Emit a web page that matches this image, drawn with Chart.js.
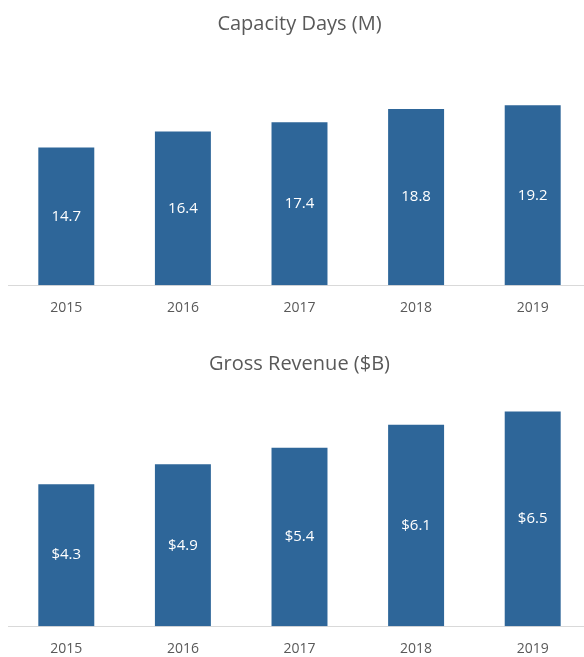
<!DOCTYPE html>
<html>
<head>
<meta charset="utf-8">
<script src="https://cdn.jsdelivr.net/npm/chart.js@4"></script>
<style>
  html, body { margin: 0; padding: 0; background: #fff; overflow: hidden; }
  .box { position: relative; width: 600px; }
  #capBox { height: 330px; }
  #revBox { height: 342px; }
</style>
</head>
<body>
<div class="box" id="capBox"><canvas id="capChart"></canvas></div>
<div class="box" id="revBox"><canvas id="revChart"></canvas></div>
<script>
var years = ['2015', '2016', '2017', '2018', '2019'];
var capacityDays = [14.7, 16.4, 17.4, 18.8, 19.2];
var grossRevenue = [4.3, 4.9, 5.4, 6.1, 6.5];

var barColor = '#2e6699';
var textColor = '#595959';
var fontFamily = "'Open Sans', 'Noto Sans', sans-serif";

// value formatters per canvas (kept out of options so Chart.js doesn't treat them as scriptable)
var valueFormats = {
    capChart: function(v) { return v.toFixed(1); },
    revChart: function(v) { return '$' + v.toFixed(1); }
};

// writes each bar's value in the middle of the bar
var barLabels = {
    id: 'barLabels',
    afterDatasetsDraw: function(chart) {
        var ctx = chart.ctx;
        var fmt = valueFormats[chart.canvas.id];
        var meta = chart.getDatasetMeta(0);
        ctx.save();
        ctx.fillStyle = '#ffffff';
        ctx.font = '15px ' + fontFamily;
        ctx.textAlign = 'center';
        ctx.textBaseline = 'middle';
        meta.data.forEach(function(bar, i) {
            var v = chart.data.datasets[0].data[i];
            ctx.fillText(fmt(v), bar.x, (bar.y + bar.base) / 2);
        });
        ctx.restore();
    }
};

function makeChart(id, values, title, yMax, titlePad, layoutPad) {
    var ctx = document.getElementById(id).getContext('2d');
    return new Chart(ctx, {
        type: 'bar',
        data: {
            labels: years,
            datasets: [{
                data: values,
                backgroundColor: barColor,
                borderWidth: 0,
                categoryPercentage: 1,
                barPercentage: 0.48
            }]
        },
        options: {
            responsive: true,
            maintainAspectRatio: false,
            animation: false,
            layout: { padding: layoutPad },
            plugins: {
                legend: { display: false },
                tooltip: { enabled: false },
                title: {
                    display: true,
                    text: title,
                    color: textColor,
                    font: { family: fontFamily, size: 20, weight: 'normal' },
                    padding: titlePad
                }
            },
            scales: {
                x: {
                    grid: { display: false, drawTicks: false },
                    border: { display: true, color: '#d9d9d9', width: 1 },
                    ticks: {
                        color: textColor,
                        padding: 14,
                        font: { family: fontFamily, size: 14 }
                    }
                },
                y: {
                    display: false,
                    min: 0,
                    max: yMax
                }
            }
        },
        plugins: [barLabels]
    });
}

makeChart('capChart', capacityDays, 'Capacity Days (M)', 25,
    { top: 0, bottom: 15 },
    { top: 12, left: 8, right: 9, bottom: 0 });

makeChart('revChart', grossRevenue, 'Gross Revenue ($B)', 7,
    { top: 22, bottom: 19 },
    { top: 0, left: 8, right: 9, bottom: 1 });
</script>
</body>
</html>
